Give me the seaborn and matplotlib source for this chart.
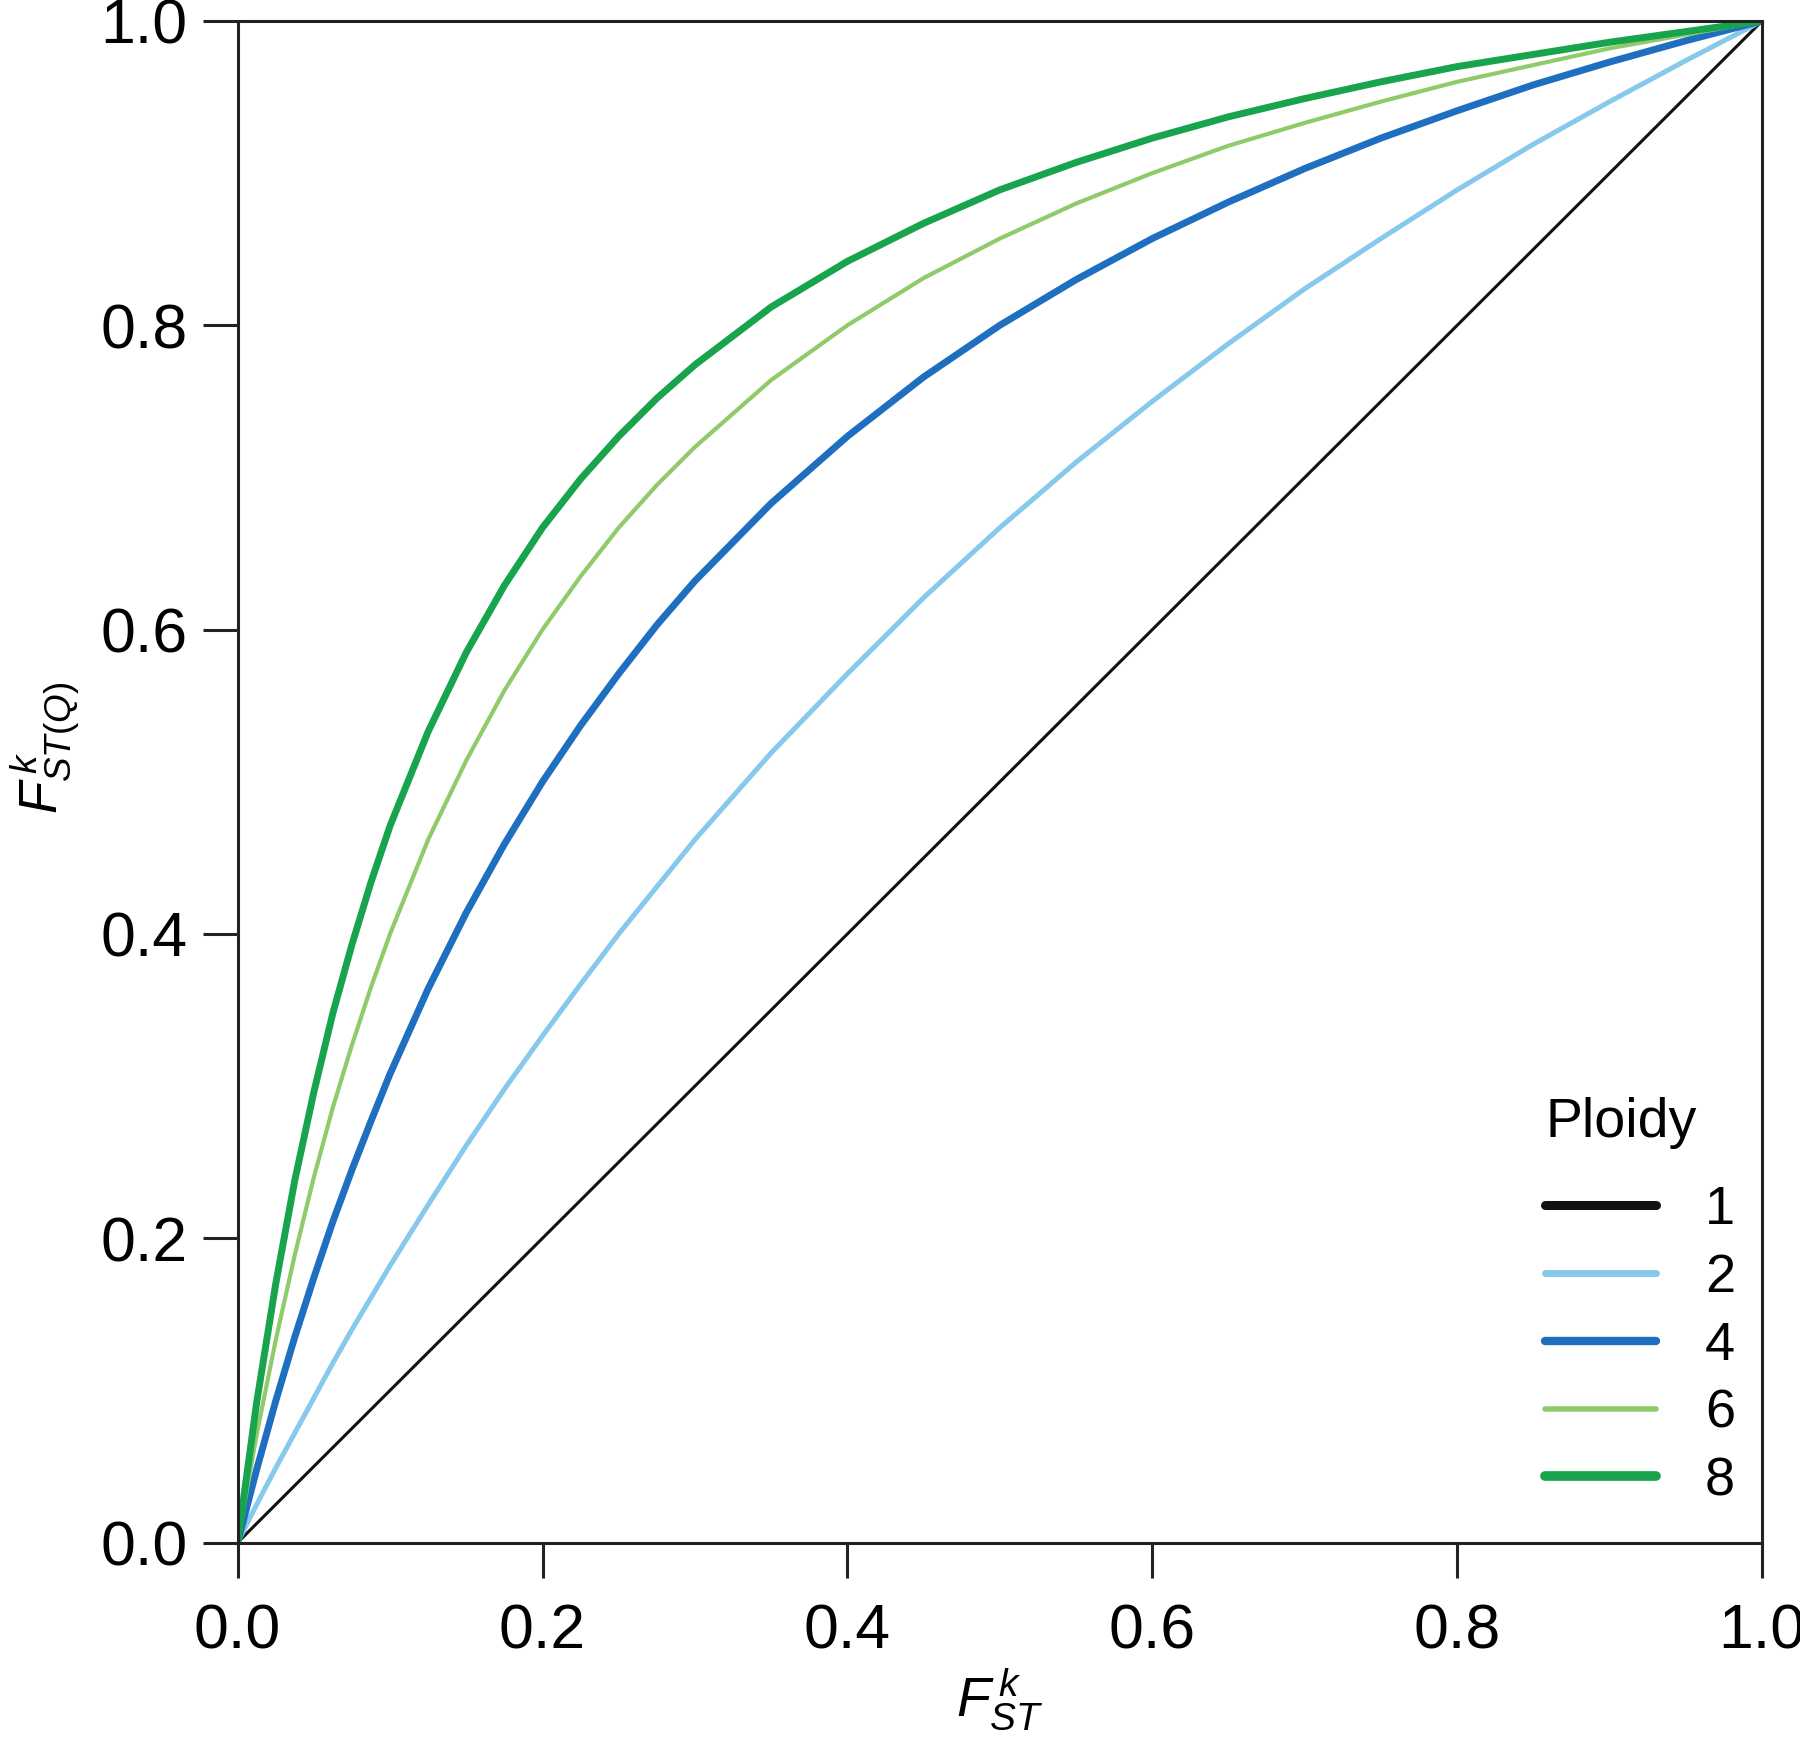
import numpy as np
import pandas as pd
import matplotlib.pyplot as plt
import seaborn as sns

# values
fst = [0.0, 0.0125, 0.025, 0.0375, 0.05, 0.0625, 0.075, 0.0875, 0.1, 0.125, 0.15, 0.175,
       0.2, 0.225, 0.25, 0.275, 0.3, 0.35, 0.4, 0.45, 0.5, 0.55, 0.6, 0.65, 0.7, 0.75,
       0.8, 0.85, 0.9, 0.95, 1.0]
ploidy_1 = [0.0, 0.0125, 0.025, 0.0375, 0.05, 0.0625, 0.075, 0.0875, 0.1, 0.125, 0.15, 0.175,
            0.2, 0.225, 0.25, 0.275, 0.3, 0.35, 0.4, 0.45, 0.5, 0.55, 0.6, 0.65, 0.7, 0.75,
            0.8, 0.85, 0.9, 0.95, 1.0]
ploidy_2 = [0.0, 0.025, 0.049, 0.072, 0.095, 0.118, 0.140, 0.161, 0.182, 0.222, 0.261, 0.298,
            0.333, 0.367, 0.400, 0.431, 0.462, 0.519, 0.571, 0.621, 0.667, 0.710, 0.750, 0.788,
            0.824, 0.857, 0.889, 0.919, 0.947, 0.974, 1.0]
ploidy_4 = [0.0, 0.048, 0.093, 0.135, 0.174, 0.211, 0.245, 0.277, 0.308, 0.364, 0.414, 0.459,
            0.500, 0.537, 0.571, 0.603, 0.632, 0.683, 0.727, 0.766, 0.800, 0.830, 0.857, 0.881,
            0.903, 0.923, 0.941, 0.958, 0.973, 0.987, 1.0]
ploidy_6 = [0.0, 0.071, 0.133, 0.189, 0.240, 0.286, 0.327, 0.365, 0.400, 0.462, 0.514, 0.560,
            0.600, 0.635, 0.667, 0.695, 0.720, 0.764, 0.800, 0.831, 0.857, 0.880, 0.900, 0.918,
            0.933, 0.947, 0.960, 0.971, 0.982, 0.991, 1.0]
ploidy_8 = [0.0, 0.092, 0.170, 0.238, 0.296, 0.348, 0.393, 0.434, 0.471, 0.533, 0.585, 0.629,
            0.667, 0.699, 0.727, 0.752, 0.774, 0.812, 0.842, 0.867, 0.889, 0.907, 0.923, 0.937,
            0.949, 0.960, 0.970, 0.978, 0.986, 0.993, 1.0]

labels = ["1", "2", "4", "6", "8"]
series = [ploidy_1, ploidy_2, ploidy_4, ploidy_6, ploidy_8]
colors = ["#111111", "#86c9ec", "#1f6fc0", "#8fcb6a", "#17a44c"]
widths = [2.2, 3.6, 5.0, 3.0, 5.0]
legend_widths = [6.5, 5.0, 6.0, 4.0, 7.0]

df = pd.concat(
    [pd.DataFrame({"x": fst, "y": s, "Ploidy": lab}) for s, lab in zip(series, labels)],
    ignore_index=True,
)

sns.set_theme(style="ticks")
plt.rcParams["font.family"] = ["Liberation Sans", "DejaVu Sans"]
plt.rcParams["mathtext.fontset"] = "custom"
plt.rcParams["mathtext.it"] = "Liberation Sans:italic"
plt.rcParams["mathtext.rm"] = "Liberation Sans"
plt.rcParams["text.color"] = "black"
plt.rcParams["axes.labelcolor"] = "black"

fig, ax = plt.subplots(figsize=(18, 17.43), dpi=100)
fig.subplots_adjust(left=0.132, right=0.979, top=0.988, bottom=0.115)

for lab, col, lw in zip(labels, colors, widths):
    sub = df[df["Ploidy"] == lab]
    sns.lineplot(data=sub, x="x", y="y", color=col, linewidth=lw, label=lab, ax=ax)

ax.set_xlim(0, 1)
ax.set_ylim(0, 1)
ticks = [0.0, 0.2, 0.4, 0.6, 0.8, 1.0]
ax.set_xticks(ticks)
ax.set_yticks(ticks)
ax.set_xticklabels([f"{t:.1f}" for t in ticks])
ax.set_yticklabels([f"{t:.1f}" for t in ticks])
ax.tick_params(labelsize=45, length=25, width=2.2, color="#222222", labelcolor="black")
ax.tick_params(axis="y", pad=11)
ax.tick_params(axis="x", pad=18)
for sp in ax.spines.values():
    sp.set_linewidth(2.2)
    sp.set_color("#222222")

ax.set_xlabel(r"$F^{\,k}_{ST}$", fontsize=40, labelpad=4)
ax.set_ylabel(r"$F^{\,k}_{ST(Q)}$", fontsize=38)
ax.yaxis.set_label_coords(-0.102, 0.522)

leg = ax.legend(title="Ploidy", loc="lower right", bbox_to_anchor=(1.0, 0.006),
                frameon=False, fontsize=39, title_fontsize=40, handlelength=2.05,
                handletextpad=0.9, labelspacing=0.33, borderaxespad=0.1)
leg._legend_box.align = "left"
leg._legend_box.sep = 26
for h, lw in zip(leg.get_lines(), legend_widths):
    h.set_linewidth(lw)

fig.savefig("out.png", dpi=100)
